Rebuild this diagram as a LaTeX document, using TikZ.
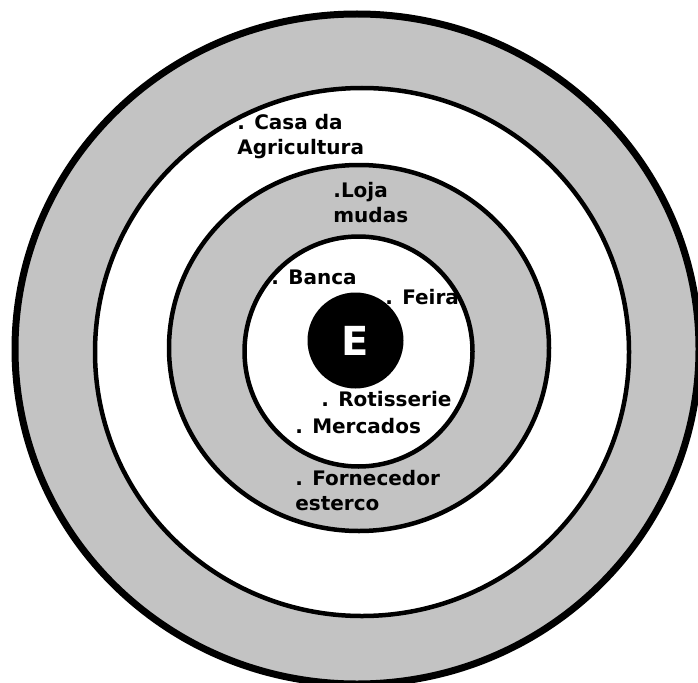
\documentclass[tikz,border=0pt]{standalone}
\usepackage{fontspec}
\setsansfont{DejaVu Sans}
\usepackage{xcolor}
\usepackage{tikz}
\definecolor{ringgray}{RGB}{195,195,195}

\begin{document}
\begin{tikzpicture}[
    x=1pt, y=-1pt,
    font=\sffamily\bfseries\fontsize{20}{25}\selectfont,
    ring/.style={
        draw=black,
        line width=4.5pt
    },
    lbl/.style={anchor=north west, inner sep=0pt, align=left, text=black},
    core/.style={
        circle,
        fill=black,
        minimum size=96pt,
        inner sep=0pt,
        text=white,
        font=\sffamily\bfseries\fontsize{40}{40}\selectfont
    }
]

\useasboundingbox (0,0) rectangle (698,682);
\clip (0,0) rectangle (698,682);
\fill[white] (0,0) rectangle (698,682);

% Rings
\draw[ring, line width=7pt, fill=ringgray] (357,349) ellipse [x radius=342, y radius=335];
\draw[ring, fill=white] (362,352) ellipse [x radius=267, y radius=264];
\draw[ring, fill=ringgray] (359,348) ellipse [x radius=190, y radius=183];
\draw[ring, fill=white] (358.5,351.5) ellipse [x radius=114, y radius=115];

% Centre
\node[core] (e) at (355.5,340.5) {E};

% Labels
\node[lbl] (casa)  at (237.2,113.8) {. Casa da\\Agricultura};
\node[lbl] (loja)  at (333.2,181.8) {.Loja\\mudas};
\node[lbl] (banca) at (271.2,269.4) {. Banca};
\node[lbl] (feira) at (385.2,288.8) {. Feira};
\node[lbl] (rotis) at (321.2,390.8) {. Rotisserie};
\node[lbl] (merc)  at (295.2,417.8) {. Mercados};
\node[lbl] (forn)  at (295.2,469.8) {. Fornecedor\\esterco};

\end{tikzpicture}
\end{document}
